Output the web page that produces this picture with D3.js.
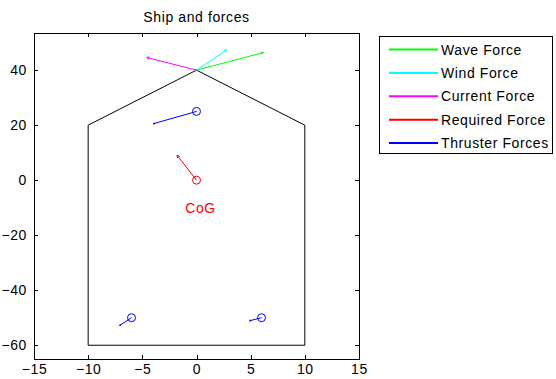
<!DOCTYPE html>
<html>
<head>
<meta charset="utf-8">
<script src="https://cdn.jsdelivr.net/npm/d3@7"></script>
<style>
  html, body { margin: 0; padding: 0; background: #fff; }
  svg { display: block; font-family: "Liberation Sans", Arial, sans-serif; }
  text { letter-spacing: 0.6px; }
</style>
</head>
<body>
<svg id="chart" width="556" height="379"></svg>
<script>
// Hull outline of the ship (metres)
const hullX = [-10, 10, 10, 0, -10, -10];
const hullY = [-60, -60, 20, 40, 20, -60];

// Environmental forces acting at the bow (start point, end point)
const envNames  = ["Wave Force", "Wind Force", "Current Force"];
const envColors = ["#00ff00", "#00ffff", "#ff00ff"];
const envStartX = [0, 0, 0];
const envStartY = [40, 40, 40];
const envEndX   = [6.2, 2.8, -4.6];
const envEndY   = [46.4, 47.4, 44.6];

// Required force at the centre of gravity
const cogX = [0];
const cogY = [0];
const reqEndX = [-1.8];
const reqEndY = [9.1];

// Thrusters: position and force vector end point
const thrX    = [0, -6, 6];
const thrY    = [25, -50, -50];
const thrEndX = [-4.0, -7.1, 4.9];
const thrEndY = [20.5, -52.8, -51.1];

// Axis ticks
const xTicks = [-15, -10, -5, 0, 5, 10, 15];
const yTicks = [-60, -40, -20, 0, 20, 40];

// Legend entries
const legendNames  = ["Wave Force", "Wind Force", "Current Force", "Required Force", "Thruster Forces"];
const legendColors = ["#00ff00", "#00ffff", "#ff00ff", "#ff0000", "#0000ff"];

const FS = 14;
const svg = d3.select("#chart");
const plot = { left: 34, right: 359, top: 33, bottom: 359 };

const x = d3.scaleLinear().domain([-15, 15]).range([plot.left, plot.right]);
const y = d3.scaleLinear().domain([-65, 53.5]).range([plot.bottom, plot.top]);

// Title
svg.append("text")
  .attr("x", (plot.left + plot.right) / 2)
  .attr("y", 22)
  .attr("text-anchor", "middle")
  .attr("font-size", FS)
  .attr("fill", "#000")
  .text("Ship and forces");

// Axes box
svg.append("rect")
  .attr("x", plot.left).attr("y", plot.top)
  .attr("width", plot.right - plot.left).attr("height", plot.bottom - plot.top)
  .attr("fill", "#fff").attr("stroke", "#000").attr("stroke-width", 1)
  .attr("shape-rendering", "crispEdges");

// Bottom / left axes with inward ticks
const xAxis = d3.axisBottom(x).tickValues(xTicks).tickSizeInner(-4).tickSizeOuter(0).tickPadding(5);
const yAxis = d3.axisLeft(y).tickValues(yTicks).tickSizeInner(-4).tickSizeOuter(0).tickPadding(7);
const gx = svg.append("g").attr("transform", `translate(0,${plot.bottom})`).call(xAxis);
const gy = svg.append("g").attr("transform", `translate(${plot.left},0)`).call(yAxis);
[gx, gy].forEach(g => {
  g.select(".domain").remove();
  g.selectAll("text").attr("font-size", FS).attr("fill", "#000").attr("font-family", "Liberation Sans, Arial, sans-serif");
  g.selectAll("line").attr("stroke", "#000").attr("shape-rendering", "crispEdges");
});
// Mirrored ticks on top and right
svg.append("g").attr("transform", `translate(0,${plot.top})`)
  .call(d3.axisTop(x).tickValues(xTicks).tickSizeInner(-4).tickSizeOuter(0).tickFormat(""))
  .call(g => { g.select(".domain").remove(); g.selectAll("line").attr("stroke", "#000").attr("shape-rendering", "crispEdges"); });
svg.append("g").attr("transform", `translate(${plot.right},0)`)
  .call(d3.axisRight(y).tickValues(yTicks).tickSizeInner(-4).tickSizeOuter(0).tickFormat(""))
  .call(g => { g.select(".domain").remove(); g.selectAll("line").attr("stroke", "#000").attr("shape-rendering", "crispEdges"); });

// Hull
const hullPts = hullX.map((d, i) => [x(d), y(hullY[i])]);
svg.append("path")
  .attr("d", d3.line()(hullPts))
  .attr("fill", "none").attr("stroke", "#000").attr("stroke-width", 1);

// Quiver-style arrow: shaft plus two small head barbs
function arrow(x0, y0, x1, y1, color, head) {
  const px0 = x(x0), py0 = y(y0), px1 = x(x1), py1 = y(y1);
  const g = svg.append("g").attr("stroke", color).attr("stroke-width", 1).attr("fill", "none");
  g.append("line").attr("x1", px0).attr("y1", py0).attr("x2", px1).attr("y2", py1);
  if (head > 0) {
    const ang = Math.atan2(py1 - py0, px1 - px0);
    [0.45, -0.45].forEach(a => {
      g.append("line")
        .attr("x1", px1).attr("y1", py1)
        .attr("x2", px1 - head * Math.cos(ang + a))
        .attr("y2", py1 - head * Math.sin(ang + a));
    });
  }
}

// Environmental forces
envNames.forEach((n, i) => arrow(envStartX[i], envStartY[i], envEndX[i], envEndY[i], envColors[i], 3));

// Required force
cogX.forEach((d, i) => {
  arrow(d, cogY[i], reqEndX[i], reqEndY[i], "#ff0000", 3);
  svg.append("circle").attr("cx", x(d)).attr("cy", y(cogY[i])).attr("r", 4)
    .attr("fill", "none").attr("stroke", "#ff0000").attr("stroke-width", 1);
  svg.append("text").attr("x", x(d) + 4).attr("y", y(cogY[i]) + 33)
    .attr("text-anchor", "middle").attr("font-size", FS).attr("fill", "#ff0000").text("CoG");
});

// Thrusters
thrX.forEach((d, i) => {
  arrow(d, thrY[i], thrEndX[i], thrEndY[i], "#0000ff", 1.5);
  svg.append("circle").attr("cx", x(d)).attr("cy", y(thrY[i])).attr("r", 4)
    .attr("fill", "none").attr("stroke", "#0000ff").attr("stroke-width", 1);
});

// Legend
const lg = svg.append("g");
lg.append("rect").attr("x", 379.5).attr("y", 36.5).attr("width", 173).attr("height", 117)
  .attr("fill", "#fff").attr("stroke", "#000").attr("stroke-width", 1);
legendNames.forEach((n, i) => {
  const yy = 49.5 + i * 23.4;
  lg.append("line").attr("x1", 389).attr("x2", 438).attr("y1", yy).attr("y2", yy)
    .attr("stroke", legendColors[i]).attr("stroke-width", 2);
  lg.append("text").attr("x", 441).attr("y", yy + 5).attr("font-size", FS).attr("fill", "#000").text(n);
});
</script>
</body>
</html>
